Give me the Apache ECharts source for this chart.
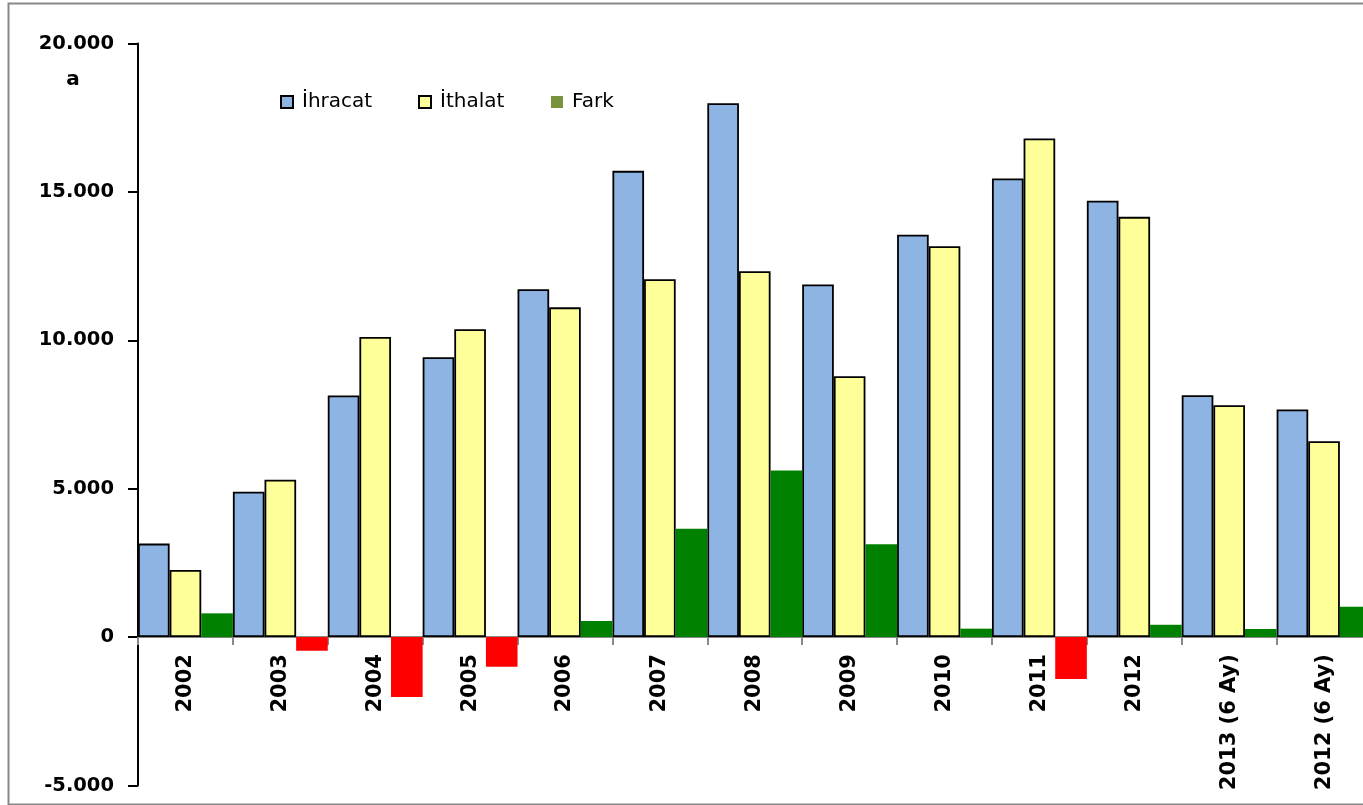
<!DOCTYPE html>
<html>
<head>
<meta charset="utf-8">
<script src="https://cdn.jsdelivr.net/npm/echarts@6/dist/echarts.min.js"></script>
<style>
html,body{margin:0;padding:0;background:#fff;}
#c{width:1363px;height:805px;}
</style>
</head>
<body>
<div id="c"></div>
<script>
const categories = ['2002','2003','2004','2005','2006','2007','2008','2009','2010','2011','2012','2013 (6 Ay)','2012 (6 Ay)'];
const ihracat = [3150, 4900, 8140, 9430, 11720, 15710, 17990, 11880, 13560, 15450, 14700, 8150, 7670];
const ithalat = [2260, 5300, 10110, 10370, 11110, 12060, 12330, 8790, 13170, 16800, 14160, 7810, 6600];
const fark = [800, -460, -2020, -1000, 540, 3650, 5610, 3130, 285, -1410, 415, 277, 1020];
const yTicks = [-5000, 0, 5000, 10000, 15000, 20000];

const FONT = 'DejaVu Sans';
const GRID_TOP = 43.5, GRID_H = 742;
const yMin = yTicks[0], yMax = yTicks[yTicks.length - 1];
const zeroOffset = -(GRID_H * (0 - yMin) / (yMax - yMin));

const chart = echarts.init(document.getElementById('c'), null, {renderer: 'canvas'});

function fmt(v){
  const s = Math.abs(v).toString().replace(/\B(?=(\d{3})+(?!\d))/g, '.');
  return (v < 0 ? '-' : '') + s;
}

const legendBase = {
  orient: 'horizontal',
  padding: 0,
  itemWidth: 12, itemHeight: 12, itemGap: 8,
  textStyle: {fontFamily: FONT, fontSize: 20, color: '#000', padding: [0, 0, 0, 4]},
  selectedMode: false,
  icon: 'rect'
};

chart.setOption({
  animation: false,
  backgroundColor: '#fff',
  grid: {left: 138, top: GRID_TOP, width: 1233.5, height: GRID_H, containLabel: false, outerBoundsMode: 'none'},
  legend: [
    Object.assign({}, legendBase, {left: 280, top: 92, data: ['İhracat']}),
    Object.assign({}, legendBase, {left: 418, top: 92, data: ['İthalat']}),
    Object.assign({}, legendBase, {left: 551, top: 92, data: ['Fark']})
  ],
  xAxis: {
    type: 'category',
    data: categories,
    boundaryGap: true,
    position: 'bottom',
    offset: zeroOffset,
    axisLine: {onZero: false, lineStyle: {color: '#888', width: 2}},
    axisTick: {show: true, interval: 0, alignWithLabel: false, length: 8, lineStyle: {color: '#888', width: 2}},
    axisLabel: {
      interval: 0, rotate: 90, margin: 17, hideOverlap: false,
      fontFamily: FONT, fontSize: 21, fontWeight: 'bold', color: '#000'
    },
    splitLine: {show: false}
  },
  yAxis: {
    type: 'value',
    min: yMin, max: yMax, interval: 5000,
    axisLine: {show: true, onZero: false, lineStyle: {color: '#000', width: 2}},
    axisTick: {show: true, inside: false, length: 10, lineStyle: {color: '#000', width: 2}},
    axisLabel: {
      margin: 24, formatter: fmt,
      fontFamily: FONT, fontSize: 19.5, fontWeight: 'bold', color: '#000'
    },
    splitLine: {show: false}
  },
  series: [
    {
      name: 'İhracat', type: 'bar', data: ihracat,
      barGap: '0%', barCategoryGap: '0%',
      itemStyle: {color: '#8EB4E3', borderColor: '#000', borderWidth: 1.8}
    },
    {
      name: 'İthalat', type: 'bar', data: ithalat,
      barGap: '0%', barCategoryGap: '0%',
      itemStyle: {color: '#FFFF99', borderColor: '#000', borderWidth: 1.8}
    },
    {
      name: 'Fark', type: 'bar',
      data: fark.map(v => ({value: v, itemStyle: {color: v < 0 ? '#FF0000' : '#008000'}})),
      barGap: '0%', barCategoryGap: '0%',
      itemStyle: {color: '#77933C', borderWidth: 0}
    }
  ],
  graphic: [
    {type: 'rect', left: 6, top: 1, shape: {x: 0, y: 0, width: 1420, height: 801}, style: {fill: 'none', stroke: '#878787', lineWidth: 2}, silent: true, z: 100},
    {type: 'text', x: 73, y: 80, style: {text: 'a', fontFamily: FONT, fontSize: 20, fontWeight: 'bold', fill: '#000', align: 'center', verticalAlign: 'middle'}}
  ]
});
</script>
</body>
</html>
